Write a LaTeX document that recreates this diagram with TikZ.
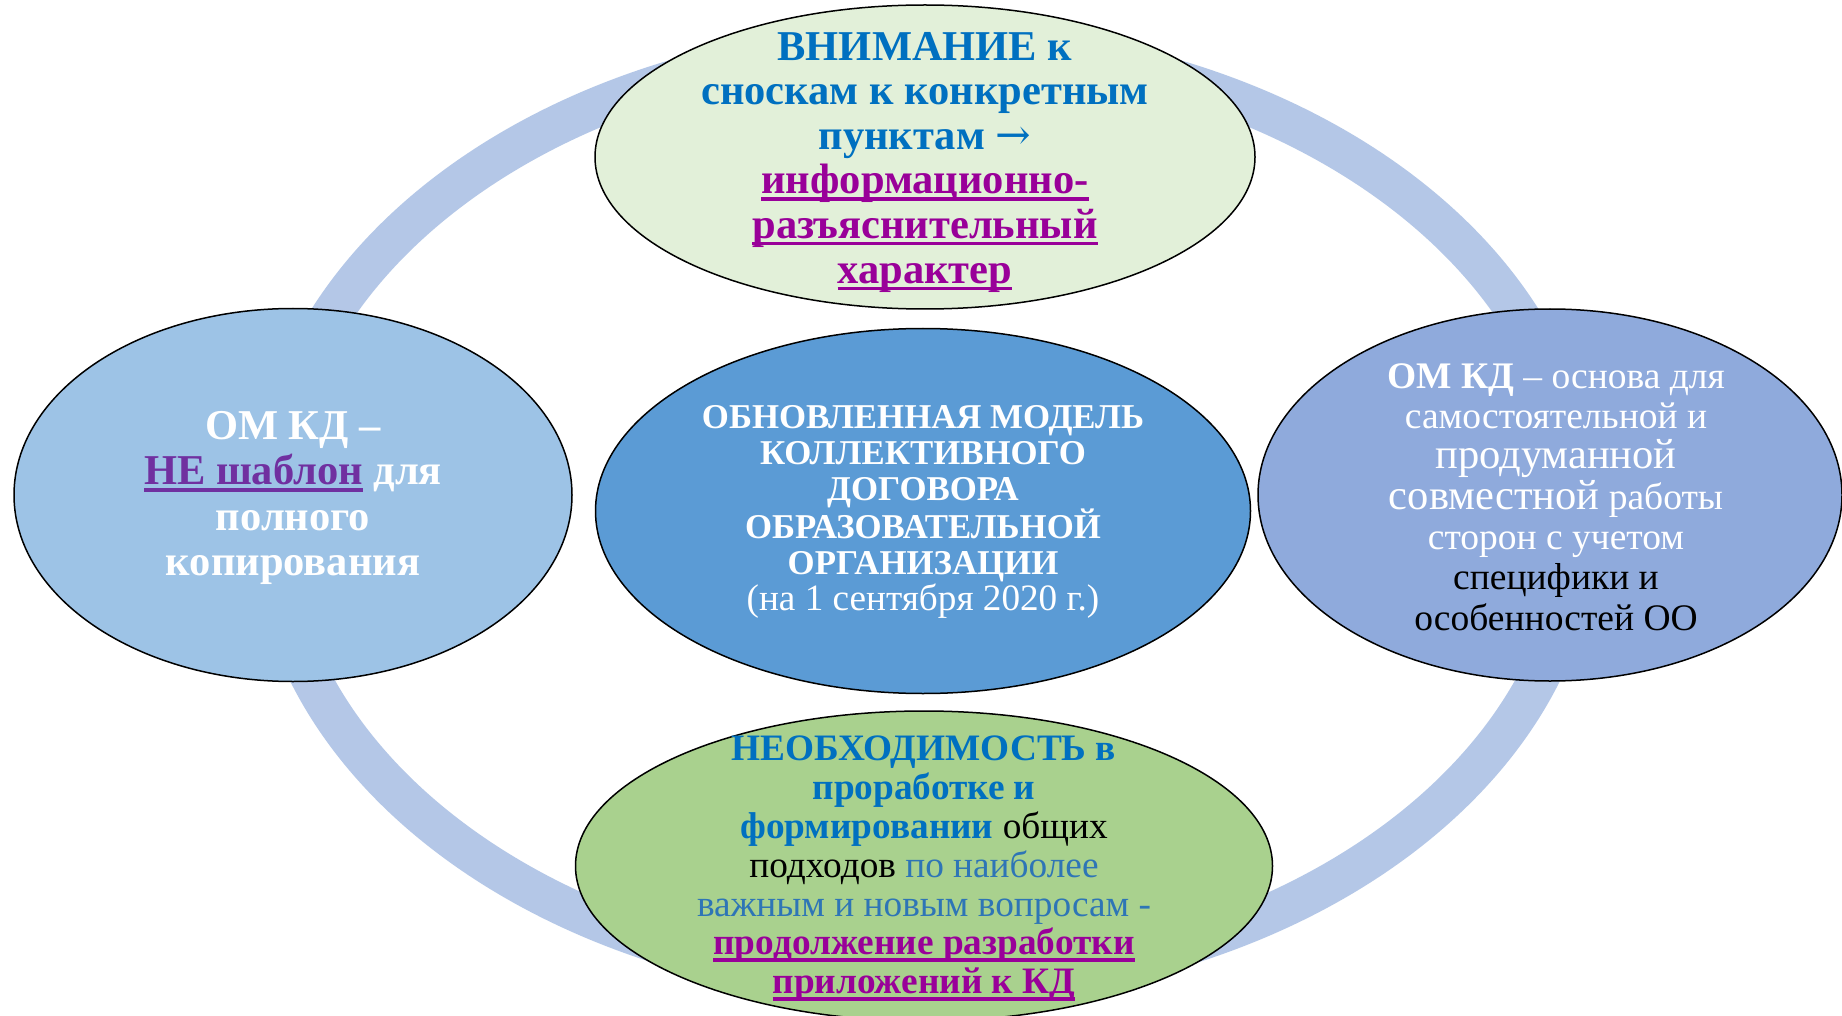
\documentclass[tikz,border=0pt]{standalone}
\usepackage{fontspec}
\setmainfont{Liberation Serif}
\newfontfamily\arrowfont{DejaVu Serif}
\usepackage{xcolor}
\usetikzlibrary{shapes.geometric}

\definecolor{ringblue}{HTML}{B4C7E7}
\definecolor{topgreen}{HTML}{E2F0D9}
\definecolor{midblue}{HTML}{5B9BD5}
\definecolor{leftblue}{HTML}{9DC3E6}
\definecolor{rightblue}{HTML}{8FAADC}
\definecolor{botgreen}{HTML}{A9D18E}
\definecolor{textblue}{HTML}{0070C0}
\definecolor{paleblue}{HTML}{2E75B6}
\definecolor{plum}{HTML}{990099}
\definecolor{violet}{HTML}{7030A0}

\newcommand{\lineunder}[1]{\setbox0\hbox{#1}\rlap{\vrule width\wd0 height -3.5pt depth 7pt}\box0}
\newcommand{\plumline}[1]{\textcolor{plum}{\lineunder{#1}}}
\newcommand{\largerword}{\fontsize{42.5}{40.3}\selectfont}

\tikzset{
	blob/.style={ellipse,draw=black,line width=1.5pt,inner sep=0pt},
	blobtext/.style={align=center,inner sep=0pt}
}

\begin{document}
\begin{tikzpicture}[x=1pt,y=-1pt]
		\useasboundingbox[fill=white] (0,0) rectangle (1842,1016);
		%Ring
			\draw[ringblue,line width=40pt] (925,514) ellipse [x radius=655pt,y radius=470pt];
		%Ellipses
			\node[blob,fill=topgreen,minimum width=660pt,minimum height=304pt] (attention) at (925,157) {};
			\node[blob,fill=leftblue,minimum width=558pt,minimum height=373pt] (template) at (293,495) {};
			\node[blob,fill=midblue,minimum width=655pt,minimum height=365pt] (model) at (923,511) {};
			\node[blob,fill=rightblue,minimum width=584pt,minimum height=372pt] (basis) at (1550,495) {};
			\node[blob,fill=botgreen,minimum width=697pt,minimum height=310pt] (need) at (924,866) {};
		%Texts
			\node[blobtext,text=textblue,font=\fontsize{42.5}{44.6}\selectfont\bfseries] (attentionText) at (925,162) {
				ВНИМАНИЕ к\\
				сноскам к конкретным\\
				пунктам {\arrowfont\mdseries →}\\
				\plumline{информационно-}\\
				\plumline{разъяснительный}\\
				\plumline{характер}};
			\node[blobtext,text=white,font=\fontsize{42.5}{45.5}\selectfont\bfseries] (templateText) at (293,498) {
				ОМ КД –\\
				\textcolor{violet}{\lineunder{НЕ шаблон}} для\\
				полного\\
				копирования};
			\node[blobtext,text=white,font=\fontsize{34.8}{35.8}\selectfont\bfseries] (modelText) at (923,512) {
				ОБНОВЛЕННАЯ МОДЕЛЬ\\
				КОЛЛЕКТИВНОГО\\
				ДОГОВОРА\\
				ОБРАЗОВАТЕЛЬНОЙ\\
				ОРГАНИЗАЦИИ\\
				{\mdseries\fontsize{37.2}{38.5}\selectfont (на 1 сентября 2020 г.)}};
			\node[blobtext,text=white,font=\fontsize{37.5}{40.3}\selectfont] (basisText) at (1556,497) {
				\textbf{ОМ КД} – основа для\\
				самостоятельной и\\
				{\largerword продуманной}\\
				{\largerword совместной} работы\\
				сторон с учетом\\
				\textcolor{black}{специфики и}\\
				\textcolor{black}{особенностей ОО}};
			\node[blobtext,text=textblue,font=\fontsize{37.3}{38.8}\selectfont\bfseries] (needText) at (924,869) {
				НЕОБХОДИМОСТЬ в\\
				проработке и\\
				формировании \textcolor{black}{\mdseries общих}\\
				\textcolor{black}{\mdseries подходов} \textcolor{paleblue}{\mdseries по наиболее}\\
				\textcolor{paleblue}{\mdseries важным и новым вопросам -}\\
				\plumline{продолжение разработки}\\
				\plumline{приложений к КД}};
	\end{tikzpicture}
\end{document}
